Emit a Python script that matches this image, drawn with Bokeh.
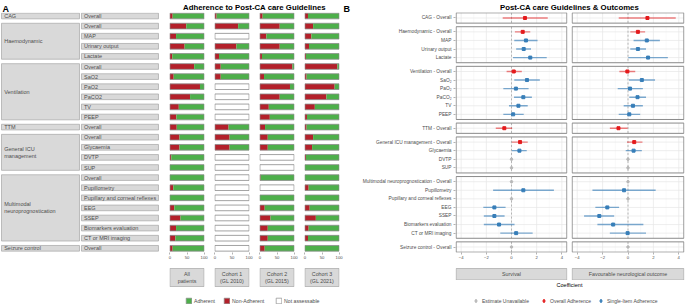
from bokeh.plotting import figure
from bokeh.layouts import row, column
from bokeh.models import Range1d, FixedTicker, Label, Legend, LegendItem, Spacer
from bokeh.core.properties import value
from bokeh.embed import file_html
from bokeh.resources import INLINE

FONT = "Liberation Sans"
TXT = "#4d4d4d"
GREEN = "#4daf4a"
RED = "#b3202a"
OUTL = "#8c8c8c"
STRIP = "#d9d9d9"
STRIP_LINE = "#a6a6a6"
C_OVERALL = "#e41a1c"
C_SINGLE = "#377eb8"
C_NA = "#b8b8b8"

# ---------------- Panel A data ----------------
group_names = ["CAG", "Haemodynamic", "Ventilation", "TTM", "General ICU\nmanagement",
               "Multimodal\nneuroprognostication", "Seizure control"]
group_sizes = [1, 4, 6, 1, 4, 7, 1]
item_names = ["Overall",
              "Overall", "MAP", "Urinary output", "Lactate",
              "Overall", "SaO2", "PaO2", "PaCO2", "TV", "PEEP",
              "Overall",
              "Overall", "Glycaemia", "DVTP", "SUP",
              "Overall", "Pupillometry", "Pupillary and corneal reflexes", "EEG", "SSEP",
              "Biomarkers evaluation", "CT or MRI imaging",
              "Overall"]
cohort_labels = ["All\npatients", "Cohort 1\n(GL 2010)", "Cohort 2\n(GL 2015)", "Cohort 3\n(GL 2021)"]
# % non-adherent (None = not assessable); remainder is adherent
nonadh_all = [8, 48, 18, 43, 7, 71, 11, 88, 59, 26, 19, 20, 28, 28, 4, 0, 0, 10, 0, 13, 31, 18, 16, 8]
nonadh_c1 = [5, 68, None, 63, 12, 17, 17, None, None, None, None, 40, 43, 43, None, None,
             None, None, None, None, None, None, None, None]
nonadh_c2 = [8, 58, 19, 58, 6, 95, 12, 88, 58, 26, 29, 15, 23, 23, None, None, 2, None, 0, 14, 31, 23, 23, 14]
nonadh_c3 = [9, 24, 19, 12, 3, 95, 5, 87, 63, 29, 6, 5, 24, 21, 3, 0, 0, 11, 0, 14, 32, 11, 9, 0]
pct_ticks = [0, 50, 100]
legend_a = ["Adherent", "Non-Adherent", "Not assessable"]

# ---------------- Panel B data ----------------
coef_labels = ["CAG - Overall",
               "Haemodynamic - Overall", "MAP", "Urinary output", "Lactate",
               "Ventilation - Overall", "SaO\u2082", "PaO\u2082", "PaCO\u2082", "TV", "PEEP",
               "TTM - Overall",
               "General ICU management - Overall", "Glycaemia", "DVTP", "SUP",
               "Multimodal neuroprognostication - Overall", "Pupillometry", "Pupillary and corneal reflexes",
               "EEG", "SSEP", "Biomarkers evaluation", "CT or MRI imaging",
               "Seizure control - Overall"]
overall_flag = [1, 1, 0, 0, 0, 1, 0, 0, 0, 0, 0, 1, 1, 0, 0, 0, 1, 0, 0, 0, 0, 0, 0, 1]
surv_est = [1.07, 0.89, 1.15, 0.97, 1.49, 0.18, 1.23, 0.35, 0.94, 0.55, 0.13, -0.57, 0.68, 0.63,
            None, None, None, 0.94, None, -1.36, -1.36, -0.99, 0.37, None]
surv_lo = [-0.70, 0.27, 0.22, 0.37, 0.12, -0.39, 0.22, -0.65, 0.20, -0.20, -0.65, -1.25, 0.03, 0.03,
           None, None, None, -1.46, None, -2.24, -2.20, -2.20, -0.89, None]
surv_hi = [2.88, 1.49, 2.07, 1.55, 2.80, 0.82, 2.25, 1.36, 1.62, 1.29, 0.97, 0.05, 1.29, 1.21,
           None, None, None, 3.37, None, -0.47, -0.55, 0.24, 1.68, None]
fav_est = [1.53, 0.78, 1.48, 0.78, 1.58, -0.05, 1.09, 0.16, 0.75, 0.39, 0.10, -0.75, 0.49, 0.44,
           None, None, None, -0.31, None, -1.63, -2.26, -1.17, -0.03, None]
fav_lo = [-0.73, 0.18, 0.44, 0.18, 0.02, -0.68, 0.08, -0.81, 0.10, -0.34, -0.73, -1.43, -0.08, -0.18,
          None, None, None, -2.80, None, -2.57, -3.46, -2.41, -1.43, None]
fav_hi = [3.76, 1.35, 2.51, 1.42, 3.14, 0.57, 2.13, 1.17, 1.42, 1.17, 0.96, -0.03, 1.14, 1.09,
          None, None, None, 2.18, None, -0.70, -1.09, 1.21, 1.42, None]
outcome_labels = ["Survival", "Favourable neurological outcome"]
coef_ticks = [-4, -2, 0, 2, 4]
coef_minor = [-3, -1, 1, 3]
legend_b = ["Estimate Unavailable", "Overall Adherence", "Single-Item Adherence"]

# ---------------- layout sizes ----------------
W_LAB, W_BAR, W_SURV, W_FAV = 164, 45, 225, 116
H_HEAD, H_MAIN, AXB = 12, 252, 12
H_STRIP_A, H_LEG_A = 24, 17
H_STRIP_B, H_LEG_B = 16, 25
NROW = len(item_names)


def base_fig(width, height, xr, yr, xaxis=None, yaxis=None):
    p = figure(width=width, height=height, x_range=xr, y_range=yr, output_backend="svg",
               toolbar_location=None, x_axis_location=xaxis, y_axis_location=yaxis, min_border=0)
    p.outline_line_color = None
    p.grid.visible = False
    p.background_fill_color = "white"
    p.border_fill_color = "white"
    return p


def style_axis(ax, size, standoff=1):
    ax.axis_line_color = None
    ax.major_tick_line_color = "#7f7f7f"
    ax.major_tick_line_width = 0.6
    ax.major_tick_out = 2
    ax.major_tick_in = 0
    ax.minor_tick_line_color = None
    ax.major_label_text_font = FONT
    ax.major_label_text_font_size = size
    ax.major_label_text_color = TXT
    ax.major_label_standoff = standoff


# ---------------- header ----------------
head = base_fig(685, H_HEAD, Range1d(0, 685), Range1d(0, H_HEAD))
for x, yb, t, sz, al in [(2, 4.0, "A", "9px", "left"),
                         (254, 4.6, "Adherence to Post-CA care Guidelines", "7.8px", "center"),
                         (343, 4.0, "B", "9px", "left"),
                         (569, 4.6, "Post-CA care Guidelines & Outcomes", "7.8px", "center")]:
    head.add_layout(Label(x=x, y=yb, text=t, text_align=al, text_baseline="alphabetic", text_font=FONT,
                          text_font_size=sz, text_font_style="bold", text_color="black"))

# ---------------- panel A: label table ----------------
yr_a = Range1d(NROW - 1 + 0.416, -0.347)
lab = base_fig(W_LAB, H_MAIN, Range1d(0, 2), yr_a)
lab.min_border_bottom = AXB
g_center, g_height, start = [], [], 0
for n in group_sizes:
    g_center.append(start + (n - 1) / 2)
    g_height.append((n - 1) + 0.56)
    start += n
lab.rect(x=0.4878, y=g_center, width=0.951, height=g_height, fill_color=STRIP, line_color=STRIP_LINE,
         line_width=0.7)
lab.rect(x=1.457, y=list(range(NROW)), width=0.939, height=0.56, fill_color=STRIP, line_color=STRIP_LINE,
         line_width=0.7)
lab.text(x=0.045, y=g_center, text=group_names, text_align="left", text_baseline="middle",
         text_font=value(FONT), text_font_size="5.5px", text_color=TXT, text_line_height=1.15)
lab.text(x=1.018, y=list(range(NROW)), text=item_names, text_align="left", text_baseline="middle",
         text_font=value(FONT), text_font_size="5.5px", text_color=TXT)


# ---------------- panel A: bars ----------------
def bar_fig(vals):
    p = base_fig(W_BAR, H_MAIN, Range1d(-1.2, 101.2), yr_a, xaxis="below")
    p.min_border_left = 5
    p.min_border_right = 5
    p.min_border_bottom = AXB
    ok = [i for i, v in enumerate(vals) if v is not None]
    na = [i for i, v in enumerate(vals) if v is None]
    red = [vals[i] for i in ok]
    p.hbar(y=ok, left=0, right=red, height=0.56, fill_color=RED, line_color=None)
    p.hbar(y=ok, left=red, right=100, height=0.56, fill_color=GREEN, line_color=None)
    p.hbar(y=na, left=0, right=100, height=0.56, fill_color="white", line_color=None)
    p.hbar(y=list(range(NROW)), left=0, right=100, height=0.56, fill_color=None, line_color=OUTL,
           line_width=0.8)
    p.xaxis.ticker = FixedTicker(ticks=pct_ticks)
    style_axis(p.xaxis[0], "4.2px")
    return p


bars = [bar_fig(v) for v in [nonadh_all, nonadh_c1, nonadh_c2, nonadh_c3]]

# ---------------- panel B: forest ----------------
EXP, GAP = 0.6, 0.42
ypos, facets, off = [], [], 0.0
for n in group_sizes:
    for j in range(n):
        ypos.append(round(off + EXP + j, 4))
    y1 = off + n - 1 + 2 * EXP
    facets.append((off, y1))
    off = y1 + GAP
total = off - GAP
yr_b = Range1d(total + 0.04, -0.04)
XL = 4.4


def forest_fig(est, lo, hi, width, mbl, mbr, show_y):
    p = base_fig(width, H_MAIN, Range1d(-4.45, 4.45), yr_b, xaxis="below", yaxis="left" if show_y else None)
    p.min_border_left = mbl
    p.min_border_right = mbr
    p.min_border_bottom = AXB
    fy0 = [f[0] for f in facets]
    fy1 = [f[1] for f in facets]
    # grid (within each facet)
    for xs, col, lw in [(coef_minor, "#f2f2f2", 0.5), (coef_ticks, "#e6e6e6", 0.7)]:
        gx = [x for x in xs for _ in facets]
        p.segment(x0=gx, x1=gx, y0=fy0 * len(xs), y1=fy1 * len(xs), line_color=col, line_width=lw)
    p.segment(x0=-XL, x1=XL, y0=ypos, y1=ypos, line_color="#e6e6e6", line_width=0.7)
    p.segment(x0=0, x1=0, y0=fy0, y1=fy1, line_color="#a6a6a6", line_width=0.8, line_dash="2 2")
    p.quad(left=-XL, right=XL, top=fy0, bottom=fy1, fill_color=None, line_color="#8a8a8a", line_width=1)
    # estimates
    for flag, col, alpha in [(1, C_OVERALL, 0.55), (0, C_SINGLE, 0.65)]:
        idx = [i for i in range(NROW) if est[i] is not None and overall_flag[i] == flag]
        yy = [ypos[i] for i in idx]
        p.segment(x0=[lo[i] for i in idx], x1=[hi[i] for i in idx], y0=yy, y1=yy,
                  line_color=col, line_alpha=alpha, line_width=1.4)
        p.scatter(x=[est[i] for i in idx], y=yy, marker="square", size=3, color=col)
    na = [ypos[i] for i in range(NROW) if est[i] is None]
    p.scatter(x=[0] * len(na), y=na, marker="circle", size=2.5, color=C_NA)
    p.xaxis.ticker = FixedTicker(ticks=coef_ticks)
    style_axis(p.xaxis[0], "4.2px")
    if show_y:
        p.yaxis.ticker = FixedTicker(ticks=ypos)
        p.yaxis.major_label_overrides = {y: t for y, t in zip(ypos, coef_labels)}
        style_axis(p.yaxis[0], "4.8px", standoff=2)
    return p


surv = forest_fig(surv_est, surv_lo, surv_hi, W_SURV, 111, 2, True)
fav = forest_fig(fav_est, fav_lo, fav_hi, W_FAV, 2, 1, False)


# ---------------- strips ----------------
def strip_fig(width, height, mbl, mbr, xr, x0, x1, label, top, bottom):
    p = base_fig(width, height, xr, Range1d(height, 0))
    p.min_border_left = mbl
    p.min_border_right = mbr
    p.quad(left=x0, right=x1, top=top, bottom=bottom, fill_color=STRIP, line_color=STRIP_LINE, line_width=0.7)
    p.text(x=(x0 + x1) / 2, y=(top + bottom) / 2, text=[label], text_align="center", text_baseline="middle",
           text_font=value(FONT), text_font_size="5.3px", text_color=TXT, text_line_height=1.15)
    return p


strips_a = [strip_fig(W_BAR, H_STRIP_A, 5, 5, Range1d(-1.2, 101.2), 0, 100, lbl, 4, 22) for lbl in cohort_labels]
strip_s = strip_fig(W_SURV, H_STRIP_B, 111, 2, Range1d(-4.45, 4.45), -XL, XL, outcome_labels[0], 4, 15.5)
strip_f = strip_fig(W_FAV, H_STRIP_B, 2, 1, Range1d(-4.45, 4.45), -XL, XL, outcome_labels[1], 4, 15.5)


# ---------------- legends (+ axis title) ----------------
def add_legends(fig, labels, rends, xs, gw, gh, ly, fs):
    for t, r, x in zip(labels, rends, xs):
        fig.add_layout(Legend(items=[LegendItem(label=t, renderers=[r])], location=(x, ly),
                              orientation="horizontal", glyph_width=gw, glyph_height=gh, label_height=gh,
                              label_standoff=2, padding=0, margin=0, border_line_color=None,
                              background_fill_alpha=0, label_text_font=FONT, label_text_font_size=fs,
                              label_text_color=TXT))


# legend key renderers: one off-screen sample each (only their legend keys are visible)
KEY_OFF = -50
W_A = 4 * W_BAR
leg_a_fig = base_fig(W_A, H_LEG_A, Range1d(0, W_A), Range1d(0, H_LEG_A))
ra = [leg_a_fig.quad(left=[KEY_OFF - 1], right=[KEY_OFF], top=[KEY_OFF], bottom=[KEY_OFF - 1],
                     fill_color=c, line_color=OUTL, line_width=0.7)
      for c in [GREEN, RED, "white"]]
add_legends(leg_a_fig, legend_a, ra, [185 - W_LAB, 223 - W_LAB, 275 - W_LAB], 7, 7, 1, "5.2px")

W_B = W_SURV + W_FAV
X0_B = W_LAB + W_A
leg_b_fig = base_fig(W_B, H_LEG_B, Range1d(0, W_B), Range1d(0, H_LEG_B))
leg_b_fig.add_layout(Label(x=569 - X0_B, y=H_LEG_B - 4.2, text="Coefficient", text_align="center",
                           text_baseline="middle", text_font=FONT, text_font_size="5.5px", text_color="black"))
rb = [leg_b_fig.scatter(x=[KEY_OFF], y=[KEY_OFF], marker="diamond", color=c) for c in [C_NA, C_OVERALL, C_SINGLE]]
add_legends(leg_b_fig, legend_b, rb, [471 - X0_B, 539 - X0_B, 596 - X0_B], 9, 9, 0, "5px")

layout = column(
    head,
    row(lab, *bars, surv, fav),
    row(Spacer(width=W_LAB, height=H_STRIP_A + H_LEG_A),
        column(row(*strips_a), leg_a_fig),
        column(row(strip_s, strip_f), leg_b_fig)),
)

open("out.html", "w").write(file_html(layout, INLINE))
